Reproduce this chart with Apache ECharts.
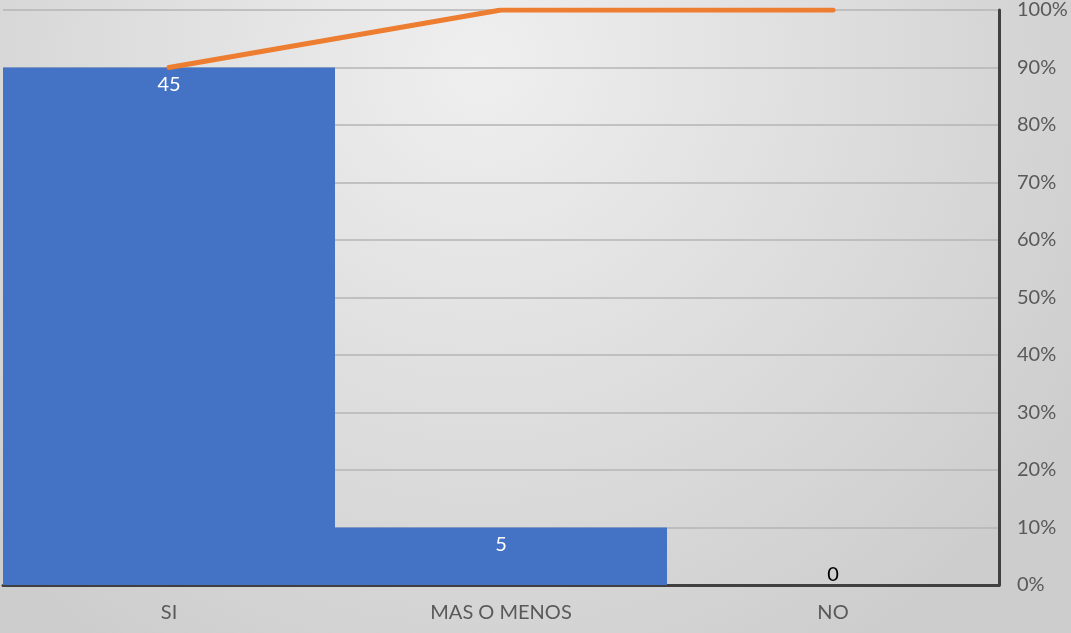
<!DOCTYPE html>
<html>
<head>
<meta charset="utf-8">
<script src="https://cdn.jsdelivr.net/npm/echarts@6/dist/echarts.min.js"></script>
<style>
  html, body { margin: 0; padding: 0; }
  #chart { width: 1071px; height: 633px; }
</style>
</head>
<body>
<div id="chart"></div>
<script>
var categories = ['SI', 'MAS O MENOS', 'NO'];
var counts = [45, 5, 0];
var cumulativePct = [90, 100, 100];

var chart = echarts.init(document.getElementById('chart'));

// label del 0 va en negro encima del eje
var barData = counts.map(function (v) {
  if (v === 0) {
    return { value: v, label: { position: 'top', color: '#000', distance: 0 } };
  }
  return v;
});

var option = {
  backgroundColor: {
    type: 'radial', x: 0.45, y: 0.1, r: 1.1,
    colorStops: [
      { offset: 0, color: '#efefef' },
      { offset: 1, color: '#cdcdcd' }
    ]
  },
  textStyle: { fontFamily: 'Lato' },
  grid: { left: 3, right: 72, top: 9, bottom: 48 },
  xAxis: {
    type: 'category',
    data: categories,
    axisLine: { lineStyle: { color: '#404040', width: 3 } },
    axisTick: { show: false },
    axisLabel: { color: '#595959', fontSize: 20, margin: 18 }
  },
  yAxis: [
    {
      type: 'value',
      min: 0, max: 50, interval: 5,
      show: false
    },
    {
      type: 'value',
      position: 'right',
      min: 0, max: 100, interval: 10,
      axisLine: { show: true, lineStyle: { color: '#404040', width: 3 } },
      axisTick: { show: false },
      axisLabel: { color: '#595959', fontSize: 20, margin: 18, formatter: '{value}%' },
      splitLine: { lineStyle: { color: '#b4b4b4', width: 1.5 } }
    }
  ],
  series: [
    {
      type: 'bar',
      yAxisIndex: 0,
      data: barData,
      barCategoryGap: 0,
      itemStyle: { color: '#4472c4' },
      label: {
        show: true,
        position: 'insideTop',
        color: '#fff',
        fontSize: 20,
        distance: 7
      },
      z: 2
    },
    {
      type: 'line',
      yAxisIndex: 1,
      data: cumulativePct,
      symbol: 'none',
      lineStyle: { color: '#ed7d31', width: 5, cap: 'round' },
      z: 3
    }
  ]
};

chart.setOption(option);
</script>
</body>
</html>
